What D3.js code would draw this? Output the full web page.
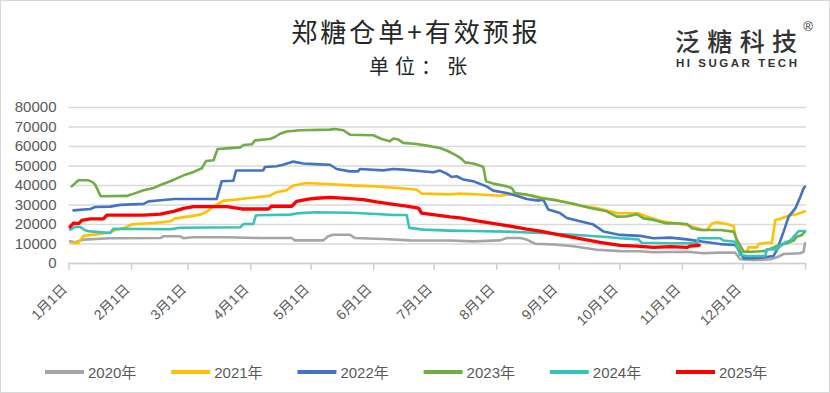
<!DOCTYPE html>
<html>
<head>
<meta charset="utf-8">
<script src="https://cdn.jsdelivr.net/npm/d3@7"></script>
<style>
  html, body { margin: 0; padding: 0; background: #fff; }
  svg { display: block; font-family: "Liberation Sans", Arial, "Noto Sans CJK SC", sans-serif; }
</style>
</head>
<body>
<div id="chart"></div>
<script>
// day of year (0 = 1月1日) and warehouse receipts + forecasts
const years = ['2020年', '2021年', '2022年', '2023年', '2024年', '2025年'];
const colors = ['#A5A5A5', '#FFC000', '#4472C4', '#70AD47', '#36C3BA', '#FF0000'];
const yTicks = [0, 10000, 20000, 30000, 40000, 50000, 60000, 70000, 80000];

const s2020 = [[0.8,11100],[3.3,10600],[7.4,12000],[20.6,12700],[45.5,12800],[47,13700],[55.3,13700],[57,12700],[61.2,13200],[78.5,13200],[95,12800],[110.6,12800],[112.2,11600],[126.3,11600],[128.7,13700],[131.2,14500],[139.5,14500],[142,12800],[156,12300],[169.2,11600],[189.1,11500],[200.6,11100],[213.9,11600],[217.2,12800],[223.8,12800],[227.1,12000],[231.2,9900],[242,9400],[250.2,8600],[261.8,6800],[273.4,6100],[283,6000],[290,5500],[306.5,5800],[314.7,5000],[323,5300],[330.4,5300],[332.9,1900],[339.5,1500],[347.8,1900],[351.1,2900],[354.4,4600],[362.7,5000],[364.3,5800],[365,10100]];

const s2021 = [[1.9,10300],[4.9,10300],[7.4,14000],[14,14700],[20.6,15700],[23.9,17100],[28.9,18500],[31.4,19800],[42.2,20500],[50.4,21400],[52.9,22900],[60.3,23900],[65.3,24800],[68.6,26300],[71.9,29100],[76.9,32000],[82.7,32500],[88.5,33200],[94.9,33900],[99.8,34500],[103.1,36300],[108.1,37300],[111.4,39700],[118,41000],[127.9,40500],[139.5,39800],[152.7,39300],[161,38600],[167.6,38100],[172.5,37600],[175,35600],[189.1,35200],[194,35600],[203.9,35100],[213.9,34500],[220.5,35600],[230.4,34500],[235.3,33300],[243.6,31800],[253.5,29400],[261.8,28200],[271.7,25600],[282.5,25500],[286.6,23800],[294.9,21200],[306.5,19500],[314.7,16900],[316.4,16900],[318.9,20300],[321.3,20900],[326.3,20000],[329.6,19000],[330.9,12100],[332.9,5800],[336.2,5800],[337,8000],[341.2,8000],[342,9700],[346.1,10400],[348.6,10400],[350.3,22100],[352.7,22600],[354.4,23300],[357.7,24500],[361,25000],[365,26500]];

const s2022 = [[2.5,27000],[10.8,27700],[13.2,28700],[20.6,28900],[25.6,29800],[37.2,30300],[39.7,31600],[47,32300],[52.7,32800],[73.4,32800],[75.9,41900],[81.7,42200],[83,47400],[96.5,47500],[97.3,49200],[103.1,49600],[106.4,50400],[111.4,52000],[116.3,51000],[124.6,50600],[129.6,50400],[132.9,48200],[139.5,47000],[143.6,47000],[144.4,48200],[156,47500],[161,48200],[165.9,47900],[170.9,47400],[180.8,46500],[184.1,47400],[187.4,45800],[189.9,44100],[192.4,44500],[195.7,42800],[200.6,41900],[207.2,39300],[210.5,37100],[217.2,35900],[222.1,34500],[227.1,32800],[232.9,32000],[235.3,32500],[237.8,27400],[243.6,25600],[247,23100],[253.5,21400],[260.1,19700],[265.1,16200],[273.4,14400],[283.3,13900],[290,12700],[298.2,13000],[306.5,12100],[314.7,10900],[323,9700],[330.4,9200],[332.1,7000],[334.6,2400],[339.5,2400],[344.5,2900],[349.4,3600],[351.1,6700],[354.4,16100],[356.9,23800],[360.2,28000],[362.7,34000],[364.3,38300],[365,39200]];

const s2023 = [[1.6,39300],[4.9,42400],[9.9,42400],[11.9,41500],[13.2,40200],[16,34200],[28.9,34400],[31.4,35200],[37.2,37300],[42.2,38500],[45.5,40000],[50.4,41900],[53.7,43400],[57.9,45300],[62,46700],[66.1,48600],[68.1,52300],[71.9,52700],[73.9,58500],[78.5,58800],[85.1,59300],[86.8,60500],[90.9,60900],[92.4,62900],[99.8,63600],[102.3,64600],[104.8,66300],[108.1,67400],[114.7,68100],[129.6,68400],[132,68700],[136.2,68100],[139.5,65800],[151,65500],[155.2,63600],[159.3,62400],[161,63800],[163.5,63300],[165.9,61600],[172.5,61000],[177.5,60200],[184.1,59000],[188.2,57300],[192.4,55100],[194.8,53400],[196.5,51600],[200.6,51000],[204.8,49600],[205.6,49200],[206.9,41900],[210.5,40700],[217.2,39300],[219.6,38500],[221.3,35900],[227.1,35100],[233.7,33300],[242,32100],[250.2,30400],[258.5,28200],[266.7,26500],[271.7,23800],[276.7,23900],[281.7,25000],[285,22900],[290,22100],[296.5,20300],[301.5,20300],[306.5,20000],[309,17800],[313.1,16900],[323,16900],[329.6,16100],[331.3,11800],[334.6,5800],[339.5,5800],[345.3,6200],[351.1,8700],[356,10100],[359.4,11500],[361,13500],[363.5,14400],[365,16100]];

const s2024 = [[0.8,17100],[3.3,18500],[5.8,18500],[8.2,16800],[10.8,16200],[20.6,15400],[22.3,17600],[50.4,17300],[55.3,18100],[85.1,18300],[86.8,20000],[91.6,20000],[92.9,24500],[109.7,24800],[114.7,25600],[123,26000],[139.5,25800],[152.7,25100],[161,24600],[167.6,24600],[168.9,18000],[175.8,17100],[189.1,16600],[200.6,16400],[217.2,16100],[233.7,15400],[250.2,14500],[266.7,13300],[273.4,12700],[282.5,12100],[284.1,10400],[298.2,10100],[311.4,10100],[312.2,12700],[323,12700],[324.6,11500],[330.4,10900],[332.9,4100],[336.2,3600],[345.3,3600],[346.1,7000],[351.1,7000],[354.4,10100],[357.7,11500],[360.2,14400],[361.9,16400],[365,16400]];

const s2025 = [[0.8,18500],[2.5,20500],[5,20200],[6.6,21900],[10.8,22600],[17.4,22700],[19,24500],[37.2,24600],[45.5,25100],[52.1,26500],[57,28000],[62,28900],[78.5,28900],[81.8,28400],[86,27700],[99,27700],[100.6,29100],[110.6,29100],[113,31600],[118.8,32800],[123,33200],[129.6,33700],[139.5,33000],[146.1,32500],[152.7,31300],[159.3,30300],[167.6,29200],[173.4,28200],[175,25600],[182.5,24500],[189.1,23600],[194,23100],[203.9,21400],[217.2,19200],[227.1,17400],[233.7,16400],[242,14700],[253.5,12500],[263.4,10600],[273.4,9000],[281.7,8700],[290,8000],[298.2,8400],[306.5,8000],[308.1,8700],[312.6,9100]];

const seriesList = [s2020, s2021, s2022, s2023, s2024, s2025];

const W = 830, H = 393;
const plot = { left: 68.5, right: 805, top: 107, bottom: 263 };

const base = new Date(2023, 0, 1);
const toDate = day => new Date(base.getTime() + day * 864e5);

const svg = d3.select('#chart').append('svg')
  .attr('width', W)
  .attr('height', H);

svg.append('rect')
  .attr('x', 0.5).attr('y', 0.5)
  .attr('width', W - 1).attr('height', H - 1)
  .attr('fill', '#fff')
  .attr('stroke', '#d9d9d9');

// title + unit
svg.append('text')
  .attr('x', 416).attr('y', 42)
  .attr('text-anchor', 'middle')
  .style('font-family', '"Noto Sans CJK SC", sans-serif')
  .style('font-size', '26px')
  .style('letter-spacing', '3px')
  .attr('fill', '#262626')
  .text('郑糖仓单+有效预报');

svg.append('text')
  .attr('x', 421).attr('y', 74)
  .attr('text-anchor', 'middle')
  .style('font-family', '"Noto Sans CJK SC", sans-serif')
  .style('font-size', '20px')
  .style('letter-spacing', '6px')
  .attr('fill', '#262626')
  .text('单位：张');

// logo
svg.append('text')
  .attr('x', 675).attr('y', 51)
  .attr('textLength', 122)
  .attr('lengthAdjust', 'spacing')
  .style('font-family', '"Noto Sans CJK SC", sans-serif')
  .style('font-size', '25px')
  .style('font-weight', '500')
  .attr('fill', '#333')
  .text('泛糖科技');

svg.append('text')
  .attr('x', 676).attr('y', 67)
  .attr('textLength', 121)
  .attr('lengthAdjust', 'spacing')
  .style('font-size', '11.5px')
  .style('font-weight', 'bold')
  .attr('fill', '#333')
  .text('HI SUGAR TECH');

svg.append('text')
  .attr('x', 808).attr('y', 31)
  .attr('text-anchor', 'middle')
  .style('font-size', '13px')
  .attr('fill', '#333')
  .text('®');

// scales
const x = d3.scaleTime()
  .domain([base, new Date(2024, 0, 1)])
  .range([plot.left, plot.right]);

const y = d3.scaleLinear()
  .domain([0, 80000])
  .range([plot.bottom, plot.top]);

// y grid + labels
const yAxis = svg.append('g')
  .attr('transform', `translate(${plot.left},0)`)
  .call(d3.axisLeft(y).tickValues(yTicks).tickSize(-(plot.right - plot.left + 1)).tickPadding(12).tickFormat(d3.format('d')));
yAxis.select('.domain').remove();
yAxis.selectAll('.tick line')
  .attr('stroke', '#d9d9d9')
  .attr('stroke-width', 1.5);
yAxis.selectAll('.tick text')
  .attr('fill', '#595959')
  .style('font-size', '15px')
  .style('font-family', '"Liberation Sans", Arial, sans-serif');

// x axis
const monthTicks = d3.timeMonth.range(base, new Date(2024, 0, 2));
const xAxis = svg.append('g')
  .attr('transform', `translate(0,${plot.bottom})`)
  .call(d3.axisBottom(x).tickValues(monthTicks).tickSize(7).tickSizeOuter(0)
    .tickFormat((d, i) => i < 12 ? `${d.getMonth() + 1}月1日` : ''));
xAxis.select('.domain')
  .attr('stroke', '#d0d0d0')
  .attr('stroke-width', 1.5);
xAxis.selectAll('.tick line')
  .attr('stroke', '#d0d0d0')
  .attr('stroke-width', 1.5);
xAxis.selectAll('.tick text')
  .attr('fill', '#595959')
  .style('font-size', '14px')
  .style('font-family', '"Liberation Sans", Arial, "Noto Sans CJK SC", sans-serif')
  .attr('text-anchor', 'end')
  .attr('dy', null)
  .attr('y', null)
  .attr('transform', 'translate(-1,27) rotate(-45)');

// lines
const line = d3.line()
  .x(d => x(toDate(d[0])))
  .y(d => y(d[1]));

svg.append('g')
  .selectAll('path')
  .data(seriesList)
  .enter().append('path')
  .attr('d', line)
  .attr('fill', 'none')
  .attr('stroke', (d, i) => colors[i])
  .attr('stroke-width', (d, i) => i === 5 ? 3.3 : 2.6)
  .attr('stroke-linejoin', 'round')
  .attr('stroke-linecap', 'round');

// legend
const legend = svg.append('g')
  .selectAll('g')
  .data(years)
  .enter().append('g')
  .attr('transform', (d, i) => `translate(${45 + i * 126.2},372)`);

legend.append('line')
  .attr('x1', 0).attr('x2', 39)
  .attr('stroke', (d, i) => colors[i])
  .attr('stroke-width', 4);

legend.append('text')
  .attr('x', 43).attr('y', 5.5)
  .attr('fill', '#595959')
  .style('font-size', '15px')
  .text(d => d);
</script>
</body>
</html>
